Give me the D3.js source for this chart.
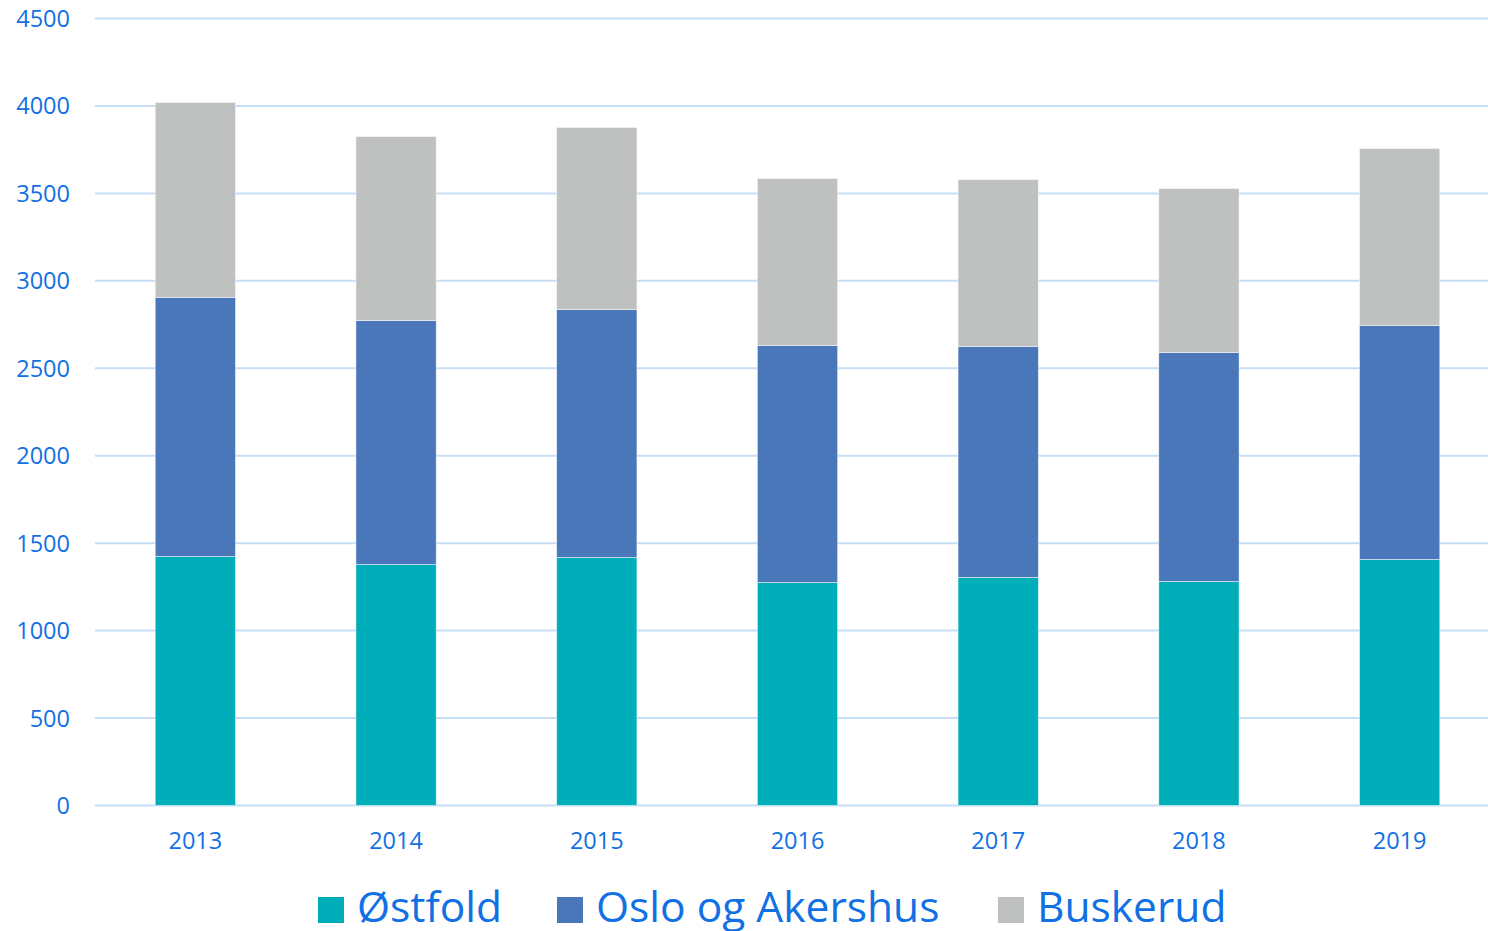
<!DOCTYPE html>
<html><head><meta charset="utf-8">
<script src="https://cdn.jsdelivr.net/npm/d3@7"></script>
<style>body{margin:0;background:#fff}svg{display:block}text{font-family:"Open Sans","Noto Sans",sans-serif}</style>
</head><body><svg id="c" width="1488" height="931"></svg>
<script>
const years = ["2013","2014","2015","2016","2017","2018","2019"];
const seriesNames = ["Østfold","Oslo og Akershus","Buskerud"];
const ostfold = [1424,1378,1418,1275,1304,1281,1407];
const oslo = [1481,1395,1418,1355,1321,1309,1338];
const buskerud = [1115,1052,1041,955,954,938,1012];
const yTicks = [0,500,1000,1500,2000,2500,3000,3500,4000,4500];
const colors = ["#00aeba","#4a76ba","#bfc0c0"];
const textColor = "#1170e4";

const data = years.map((y,i)=>({year:y,"Østfold":ostfold[i],"Oslo og Akershus":oslo[i],"Buskerud":buskerud[i]}));
const stack = d3.stack().keys(seriesNames)(data);

const svg = d3.select("#c");
const x = d3.scaleBand().domain(years).range([95,1500]).paddingInner(0.6).paddingOuter(0.3);
const y = d3.scaleLinear().domain([0,4500]).range([805.5,18.5]);

// grid
svg.append("g").selectAll("line").data(yTicks).join("line")
  .attr("x1",95).attr("x2",1488).attr("y1",d=>y(d)).attr("y2",d=>y(d))
  .attr("stroke","#c6ddf6").attr("stroke-width",2);

// y labels
svg.append("g").selectAll("text").data(yTicks).join("text")
  .attr("x",70).attr("y",d=>y(d)).attr("dy","0.36em").attr("text-anchor","end")
  .attr("fill",textColor).attr("font-size",23.5).text(d=>d);

// bars
svg.append("g").selectAll("g").data(stack).join("g").attr("fill",(d,i)=>colors[i])
  .selectAll("rect").data(d=>d).join("rect")
  .attr("x",d=>x(d.data.year)).attr("width",x.bandwidth())
  .attr("y",d=>y(d[1])).attr("height",d=>y(d[0])-y(d[1]))
  .attr("stroke","#ffffff").attr("stroke-width",0.8).attr("stroke-opacity",0.6);

// x labels
svg.append("g").selectAll("text").data(years).join("text")
  .attr("x",d=>x(d)+x.bandwidth()/2).attr("y",841).attr("dy","0.36em").attr("text-anchor","middle")
  .attr("fill",textColor).attr("font-size",23.5).text(d=>d);

// legend
const legX = [318,557,998];
const lg = svg.append("g").selectAll("g").data(seriesNames).join("g")
  .attr("transform",(d,i)=>`translate(${legX[i]},897)`);
lg.append("rect").attr("width",26).attr("height",26).attr("fill",(d,i)=>colors[i]);
lg.append("text").attr("x",39).attr("y",25).attr("fill",textColor).attr("font-size",42.5).text(d=>d);
</script></body></html>
